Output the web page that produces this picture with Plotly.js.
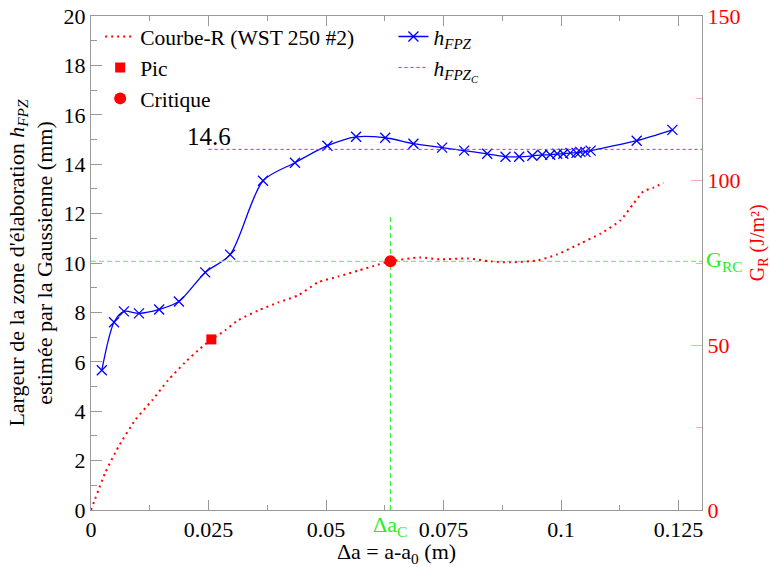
<!DOCTYPE html>
<html>
<head>
<meta charset="utf-8">
<script src="https://cdn.plot.ly/plotly-3.0.1.min.js"></script>
<style>html,body{margin:0;padding:0;background:#fff;}#chart{width:770px;height:567px;}</style>
</head>
<body>
<div id="chart"></div>
<script>
// h_FPZ (left axis, mm)
const hX = [0.0023, 0.0049, 0.0070, 0.0102, 0.0145, 0.0187, 0.0243, 0.0296, 0.0366, 0.0434, 0.0503, 0.0564, 0.0626, 0.0686, 0.0747, 0.0794, 0.0843, 0.0882, 0.0911, 0.0939, 0.0960, 0.0977, 0.0992, 0.1005, 0.1020, 0.1033, 0.1041, 0.1052, 0.1063, 0.1161, 0.1237];
const hY = [5.66, 7.6, 8.04, 7.96, 8.12, 8.44, 9.62, 10.34, 13.33, 14.06, 14.75, 15.11, 15.07, 14.83, 14.67, 14.55, 14.42, 14.3, 14.3, 14.34, 14.38, 14.38, 14.42, 14.42, 14.46, 14.46, 14.5, 14.5, 14.55, 14.95, 15.39];
// Courbe-R (right axis, J/m²)
const rX = [0, 0.0030, 0.0058, 0.0094, 0.0130, 0.0164, 0.0200, 0.0228, 0.0256, 0.0285, 0.0313, 0.0356, 0.0398, 0.0441, 0.0483, 0.0526, 0.0569, 0.0611, 0.0637, 0.0701, 0.0743, 0.0801, 0.0850, 0.0892, 0.0950, 0.0992, 0.1041, 0.1084, 0.1126, 0.1154, 0.1175, 0.1197, 0.1218];
const rY = [0, 11.2, 19.1, 27.3, 33.3, 39.4, 44.8, 48.5, 51.8, 54.5, 57.6, 60.6, 63.0, 65.2, 69.1, 70.9, 72.7, 74.5, 75.5, 76.7, 76.1, 76.4, 75.5, 75.2, 75.8, 77.6, 80.9, 83.9, 87.9, 93.0, 96.7, 97.9, 99.4];
// Peak and critical points (right axis)
const picX = [0.0256], picY = [51.8];
const critX = [0.0637], critY = [75.5];
// h_FPZ_C level
const hcX = [0.025, 0.13], hcY = [14.6, 14.6];
const hcLabel = '14.6';
// critical guide lines
const critVX = [0.0637, 0.0637], critVY = [0, 12.0];
const critHX = [0, 0.13], critHY = [75.5, 75.5];
// axes
const xRange = [0, 0.13], yRange = [0, 20], y2Range = [0, 150];
const xTicks = [0, 0.025, 0.05, 0.075, 0.1, 0.125];
const xTickText = ['0', '0.025', '0.05', '0.075', '0.1', '0.125'];

const FAM = 'Liberation Serif';
const GREEN = '#22ee22';
const f = (size, color) => ({family: FAM, size: size, color: color || '#000'});

const traces = [
  {x: critHX, y: critHY, yaxis: 'y2', mode: 'lines', line: {color: '#66ff66', width: 1.2, dash: '5px,3px'}, showlegend: false, hoverinfo: 'skip'},
  {x: critVX, y: critVY, mode: 'lines', line: {color: GREEN, width: 1, dash: '5px,3px'}, showlegend: false, hoverinfo: 'skip'},
  {x: rX, y: rY, yaxis: 'y2', mode: 'lines', name: 'Courbe-R (WST 250 #2)', line: {color: '#ff0000', width: 2, dash: '2px,4px', shape: 'spline', smoothing: 0.6}, legend: 'legend'},
  {x: picX, y: picY, yaxis: 'y2', mode: 'markers', name: 'Pic', marker: {symbol: 'square', color: '#ff0000', size: 10}, legend: 'legend'},
  {x: critX, y: critY, yaxis: 'y2', mode: 'markers', name: 'Critique', marker: {symbol: 'circle', color: '#ff0000', size: 12}, legend: 'legend'},
  {x: hX, y: hY, mode: 'lines+markers', name: '<i>h<sub>FPZ</sub></i>', line: {color: '#0000ff', width: 1.3, shape: 'spline', smoothing: 0.8}, marker: {symbol: 'x-thin-open', size: 10, line: {color: '#0000ff', width: 1.3}}, legend: 'legend2'},
  {x: hcX, y: hcY, mode: 'lines', name: '<i>h<sub>FPZ<sub>C</sub></sub></i>', line: {color: '#ff00ff', width: 1, dash: 'dot'}, legend: 'legend2'}
];

const layout = {
  width: 770, height: 567,
  margin: {l: 91, r: 68, t: 16, b: 57},
  paper_bgcolor: '#fff', plot_bgcolor: '#fff',
  font: f(20),
  xaxis: {
    range: xRange, tickvals: xTicks, ticktext: xTickText,
    ticks: 'inside', ticklen: 10, tickcolor: '#999', showline: true, linecolor: '#999', mirror: 'ticks',
    showgrid: false, zeroline: false, tickfont: f(22),
    minor: {dtick: 0.0125, ticks: 'inside', ticklen: 5, tickcolor: '#999'},
    title: {text: 'Δa = a-a<sub>0</sub> (m)', font: f(22), standoff: 5}
  },
  yaxis: {
    range: yRange, dtick: 2, ticks: 'inside', ticklen: 11, tickcolor: '#999', showline: true, linecolor: '#999',
    showgrid: false, zeroline: false, tickfont: f(22),
    minor: {dtick: 1, ticks: 'inside', ticklen: 6, tickcolor: '#999'},
    title: {text: 'Largeur de la zone d\'élaboration <i>h<sub>FPZ</sub></i><br>estimée par la Gaussienne (mm)', font: f(22), standoff: 4}
  },
  yaxis2: {
    range: y2Range, dtick: 50, overlaying: 'y', side: 'right', ticks: 'inside', ticklen: 11, tickcolor: '#ffaaaa',
    showline: true, linecolor: '#999', showgrid: false, zeroline: false,
    tickfont: f(22, '#ff0000'),
    minor: {dtick: 25, ticks: 'inside', ticklen: 6, tickcolor: '#ffaaaa'}
  },
  legend: {x: 0.015, y: 1.0, xanchor: 'left', yanchor: 'top', bgcolor: 'rgba(0,0,0,0)', font: f(21.5), tracegroupgap: 0, itemwidth: 30},
  legend2: {x: 0.495, y: 1.0, xanchor: 'left', yanchor: 'top', bgcolor: 'rgba(0,0,0,0)', font: f(21.5), tracegroupgap: 0, itemwidth: 30},
  annotations: [
    {x: hcX[0], y: hcY[0], xref: 'x', yref: 'y', text: hcLabel, showarrow: false, xanchor: 'right', yanchor: 'bottom', xshift: 24, yshift: -3, font: f(25)},
    {x: critX[0], y: 0, xref: 'x', yref: 'paper', text: 'Δa<sub>C</sub>', showarrow: false, xanchor: 'center', yanchor: 'top', yshift: 0, font: f(22, GREEN)},
    {x: 1, y: critY[0], xref: 'paper', yref: 'y2', text: 'G<sub>RC</sub>', showarrow: false, xanchor: 'left', yanchor: 'middle', xshift: 2, font: f(22, GREEN)},
    {x: 1, y: 0.54, xref: 'paper', yref: 'paper', text: 'G<sub>R</sub> (J/m²)', textangle: -90, showarrow: false, xanchor: 'center', yanchor: 'middle', xshift: 56, font: f(20, '#ff0000')}
  ]
};

Plotly.newPlot('chart', traces, layout, {displayModeBar: false, staticPlot: true});
</script>
</body>
</html>
